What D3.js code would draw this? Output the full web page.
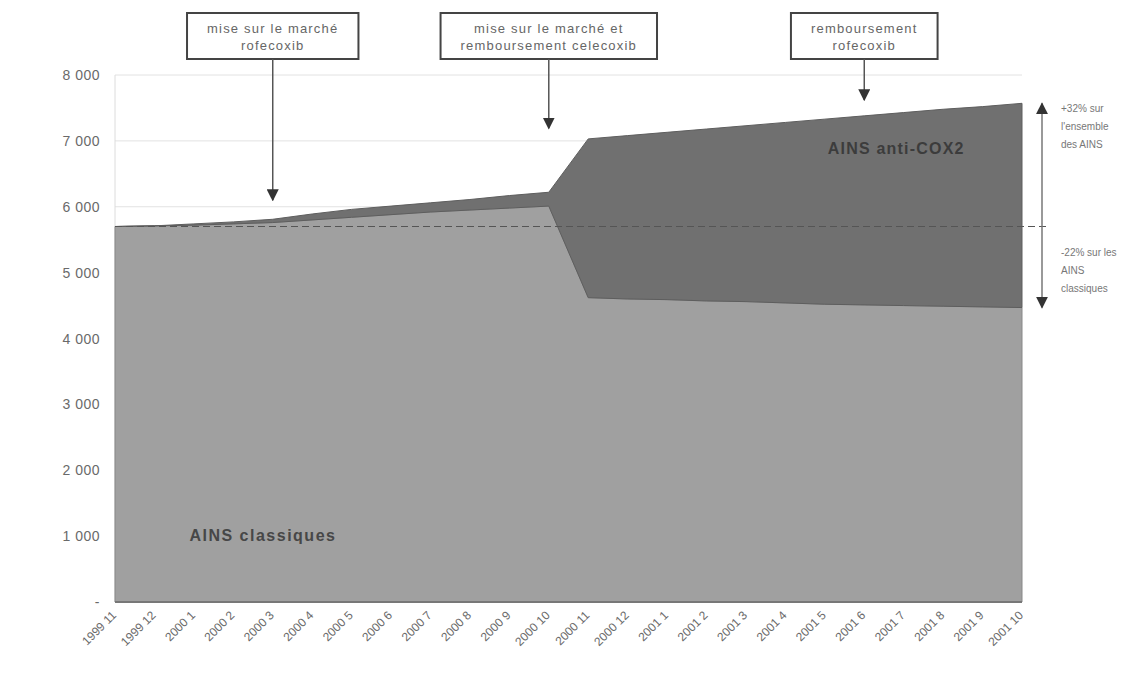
<!DOCTYPE html>
<html>
<head>
<meta charset="utf-8">
<script src="https://cdn.jsdelivr.net/npm/d3@7"></script>
<style>
  body { margin: 0; background: #fff; }
  svg text { font-family: "Liberation Sans", Arial, sans-serif; }
</style>
</head>
<body>
<svg class="ains"></svg>
<script>
// months on the x axis
const months = ["1999 11", "1999 12",
    "2000 1", "2000 2", "2000 3", "2000 4", "2000 5", "2000 6", "2000 7", "2000 8", "2000 9", "2000 10", "2000 11", "2000 12",
    "2001 1", "2001 2", "2001 3", "2001 4", "2001 5", "2001 6", "2001 7", "2001 8", "2001 9", "2001 10"];

// AINS classiques (lower layer)
const classiques = [5700, 5710, 5720, 5740, 5760, 5800, 5840, 5880, 5920, 5950, 5980, 6010,
    4620, 4600, 4590, 4570, 4560, 4540, 4520, 4510, 4500, 4490, 4480, 4470];

// AINS anti-COX2 (stacked on top)
const antiCox2 = [0, 0, 20, 30, 50, 90, 120, 130, 140, 160, 190, 210,
    2410, 2480, 2540, 2610, 2670, 2740, 2810, 2870, 2930, 2990, 3040, 3100];

const yTicks = [0, 1000, 2000, 3000, 4000, 5000, 6000, 7000, 8000];
const baseLevel = 5700;

// events drawn as boxes with arrows
const eventMonths = ["2000 3", "2000 10", "2001 6"];
const eventLines = [["mise sur le marché", "rofecoxib"],
    ["mise sur le marché et", "remboursement celecoxib"],
    ["remboursement", "rofecoxib"]];
const eventTips = [6100, 7190, 7620];

const noteTop = ["+32% sur", "l'ensemble", "des AINS"];
const noteBottom = ["-22% sur les", "AINS", "classiques"];

const W = 1134, H = 698;
const margin = {top: 75, right: 112, bottom: 96, left: 115},
    width = W - margin.left - margin.right,
    height = H - margin.top - margin.bottom;

const root = d3.select(".ains").attr("width", W).attr("height", H);
const svg = root.append("g").attr("transform", `translate(${margin.left},${margin.top})`);

const x = d3.scalePoint().domain(months).range([0, width]);
const y = d3.scaleLinear().domain([0, 8000]).range([height, 0]);

const data = months.map((m, i) => ({month: m, classiques: classiques[i], cox2: antiCox2[i]}));
const stacked = d3.stack().keys(["classiques", "cox2"])(data);

// grid
svg.selectAll(".grid")
    .data(yTicks.filter(d => d > 0))
    .enter().append("line")
    .attr("x1", 0).attr("x2", width)
    .attr("y1", d => y(d)).attr("y2", d => y(d))
    .attr("stroke", "#e2e2e2");
svg.append("line")
    .attr("x1", 0).attr("x2", 0).attr("y1", 0).attr("y2", height)
    .attr("stroke", "#dcdcdc");

// areas
const area = d3.area()
    .x(d => x(d.data.month))
    .y0(d => y(d[0]))
    .y1(d => y(d[1]));
const fills = ["#a0a0a0", "#707070"];
svg.selectAll(".layer")
    .data(stacked)
    .enter().append("path")
    .attr("d", area)
    .attr("fill", (d, i) => fills[i])
    .attr("stroke", (d, i) => i ? "#5e5e5e" : "#888")
    .attr("stroke-width", 1);

// bottom axis line
svg.append("line")
    .attr("x1", 0).attr("x2", width)
    .attr("y1", height).attr("y2", height)
    .attr("stroke", "#777").attr("stroke-width", 2);

// y axis labels
svg.selectAll(".ylab")
    .data(yTicks)
    .enter().append("text")
    .attr("x", -15)
    .attr("y", d => y(d) + 5)
    .attr("text-anchor", "end")
    .style("font-size", "14px")
    .style("letter-spacing", "0.5px")
    .style("fill", "#6a6a6a")
    .text(d => d === 0 ? "-" : d3.format(",")(d).replace(",", " "));

// x axis labels
svg.selectAll(".xlab")
    .data(months)
    .enter().append("text")
    .attr("transform", d => `translate(${x(d) + 2},${height + 14})rotate(-45)`)
    .attr("text-anchor", "end")
    .style("font-size", "12px")
    .style("fill", "#6a6a6a")
    .text(d => d);

// dashed reference level
svg.append("line")
    .attr("x1", 0).attr("x2", width + 28)
    .attr("y1", y(baseLevel)).attr("y2", y(baseLevel))
    .attr("stroke", "#555")
    .attr("stroke-dasharray", "7,4");

// arrow markers
const defs = root.append("defs");
defs.append("marker")
    .attr("id", "head")
    .attr("viewBox", "0 0 10 10")
    .attr("refX", 9).attr("refY", 5)
    .attr("markerWidth", 12).attr("markerHeight", 12)
    .attr("markerUnits", "userSpaceOnUse")
    .attr("orient", "auto")
    .append("path").attr("d", "M0,0L10,5L0,10z").attr("fill", "#333");

// event boxes
eventMonths.forEach((m, i) => {
    const cx = x(m);
    const g = svg.append("g");
    const t = g.append("text")
        .attr("text-anchor", "middle")
        .style("font-size", "13px")
        .style("letter-spacing", "1.2px")
        .style("fill", "#666");
    eventLines[i].forEach((line, j) => {
        t.append("tspan").attr("x", cx).attr("y", -margin.top + 33 + j * 17).text(line);
    });
    const bb = t.node().getBBox();
    const bw = bb.width + 40, bh = 46;
    const top = -margin.top + 13;
    g.insert("rect", "text")
        .attr("x", cx - bw / 2).attr("y", top)
        .attr("width", bw).attr("height", bh)
        .attr("fill", "#fff")
        .attr("stroke", "#444").attr("stroke-width", 2);
    g.append("line")
        .attr("x1", cx).attr("x2", cx)
        .attr("y1", top + bh).attr("y2", y(eventTips[i]))
        .attr("stroke", "#555").attr("stroke-width", 1.5)
        .attr("marker-end", "url(#head)");
});

// series labels
svg.append("text")
    .attr("x", x("1999 12") + 35).attr("y", y(1000) + 5)
    .style("font-size", "16px").style("font-weight", "bold")
    .style("letter-spacing", "1.5px")
    .style("fill", "#474747")
    .text("AINS classiques");
svg.append("text")
    .attr("x", x("2001 5") + 3).attr("y", y(6800))
    .style("font-size", "16px").style("font-weight", "bold")
    .style("letter-spacing", "1.2px")
    .style("fill", "#3c3c3c")
    .text("AINS anti-COX2");

// right side variation arrow
const last = months.length - 1;
const ax = width + 20;
svg.append("line")
    .attr("x1", ax).attr("x2", ax)
    .attr("y1", y(baseLevel)).attr("y2", y(classiques[last] + antiCox2[last]))
    .attr("stroke", "#777").attr("stroke-width", 1.5)
    .attr("marker-end", "url(#head)");
svg.append("line")
    .attr("x1", ax).attr("x2", ax)
    .attr("y1", y(baseLevel)).attr("y2", y(classiques[last]))
    .attr("stroke", "#777").attr("stroke-width", 1.5)
    .attr("marker-end", "url(#head)");

svg.append("text")
    .style("font-size", "10px").style("fill", "#777")
    .selectAll("tspan").data(noteTop).enter().append("tspan")
    .attr("x", ax + 19)
    .attr("y", (d, i) => y(classiques[last] + antiCox2[last]) + 9 + i * 18)
    .text(d => d);
svg.append("text")
    .style("font-size", "10px").style("fill", "#777")
    .selectAll("tspan").data(noteBottom).enter().append("tspan")
    .attr("x", ax + 19)
    .attr("y", (d, i) => y(classiques[last]) - 52 + i * 18)
    .text(d => d);
</script>
</body>
</html>
